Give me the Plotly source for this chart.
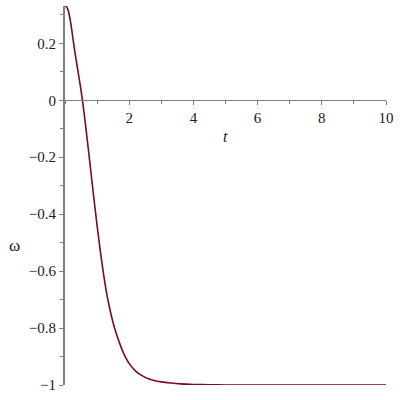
"""omega(t) 곡선 — Maple 스타일 재현 (Plotly)."""
import plotly.graph_objects as go

# 그림에서 읽은 값 (t, omega)
t_values = [0.0, 0.05, 0.1, 0.15, 0.2, 0.25, 0.3, 0.4, 0.5, 0.6, 0.7, 0.8, 0.9,
            1.0, 1.1, 1.2, 1.3, 1.4, 1.5, 1.6, 1.7, 1.8, 1.9, 2.0, 2.2, 2.4,
            2.6, 2.8, 3.0, 3.3, 3.6, 4.0, 4.5, 5.0, 6.0, 7.0, 8.0, 9.0, 10.0]
omega_values = [0.331, 0.328, 0.315, 0.29, 0.255, 0.215, 0.175, 0.105, 0.035,
                -0.05, -0.145, -0.245, -0.345, -0.44, -0.53, -0.61, -0.68,
                -0.735, -0.782, -0.82, -0.853, -0.882, -0.906, -0.925, -0.951,
                -0.967, -0.978, -0.985, -0.989, -0.993, -0.996, -0.998, -0.999,
                -1.0, -1.0, -1.0, -1.0, -1.0, -1.0]

x_ticks = [2, 4, 6, 8, 10]
y_ticks = [0.2, 0, -0.2, -0.4, -0.6, -0.8, -1]
y_tick_labels = ["0.2", "0", "−0.2", "−0.4", "−0.6", "−0.8", "−1"]

_Y_MIN, _Y_MAX = -1.0, 0.331
_AXIS_COLOR = "#808080"
_SERIF = "Times New Roman, Liberation Serif, serif"
_FONT = dict(family=_SERIF, size=15, color="#202020")

fig = go.Figure()
fig.add_trace(go.Scatter(
    x=t_values,
    y=omega_values,
    mode="lines",
    line=dict(color="#7a0a1e", width=1.6, shape="spline", smoothing=0.6),
    showlegend=False,
))

# x 축은 y=0 위치에 그린다
zero_pos = (0 - _Y_MIN) / (_Y_MAX - _Y_MIN)

fig.update_layout(
    width=400,
    height=400,
    margin=dict(l=65, r=14, t=6, b=15),
    paper_bgcolor="white",
    plot_bgcolor="white",
    font=_FONT,
    xaxis=dict(
        range=[0, 10],
        anchor="free",
        position=zero_pos,
        automargin=False,
        showgrid=False,
        zeroline=False,
        showline=True,
        linecolor=_AXIS_COLOR,
        linewidth=1.2,
        tickmode="array",
        tickvals=x_ticks,
        ticktext=[str(v) for v in x_ticks],
        ticks="outside",
        ticklen=4,
        tickcolor=_AXIS_COLOR,
        minor=dict(ticks="outside", dtick=1, tick0=0, ticklen=3, tickcolor=_AXIS_COLOR),
        tickfont=_FONT,
    ),
    yaxis=dict(
        range=[_Y_MIN, _Y_MAX],
        automargin=False,
        showgrid=False,
        zeroline=False,
        showline=True,
        linecolor=_AXIS_COLOR,
        linewidth=2,
        tickmode="array",
        tickvals=y_ticks,
        ticktext=y_tick_labels,
        ticks="outside",
        ticklen=4,
        tickcolor=_AXIS_COLOR,
        minor=dict(ticks="outside", dtick=0.1, tick0=0, ticklen=3, tickcolor=_AXIS_COLOR),
        tickfont=_FONT,
    ),
)

# 축 이름
fig.add_annotation(
    x=5, y=-0.128, xref="x", yref="y",
    text="<i>t</i>", showarrow=False,
    font=dict(family=_SERIF, size=16, color="#202020"),
)
fig.add_annotation(
    x=-0.156, y=-0.51, xref="paper", yref="y",
    text="ω", showarrow=False, xanchor="center",
    font=dict(family=_SERIF, size=17, color="#202020"),
)

# 페이지 기본 여백(8px) 제거
fig.write_html(
    "out.html",
    config={"displayModeBar": False},
    post_script="document.body.style.margin = '0';",
)
